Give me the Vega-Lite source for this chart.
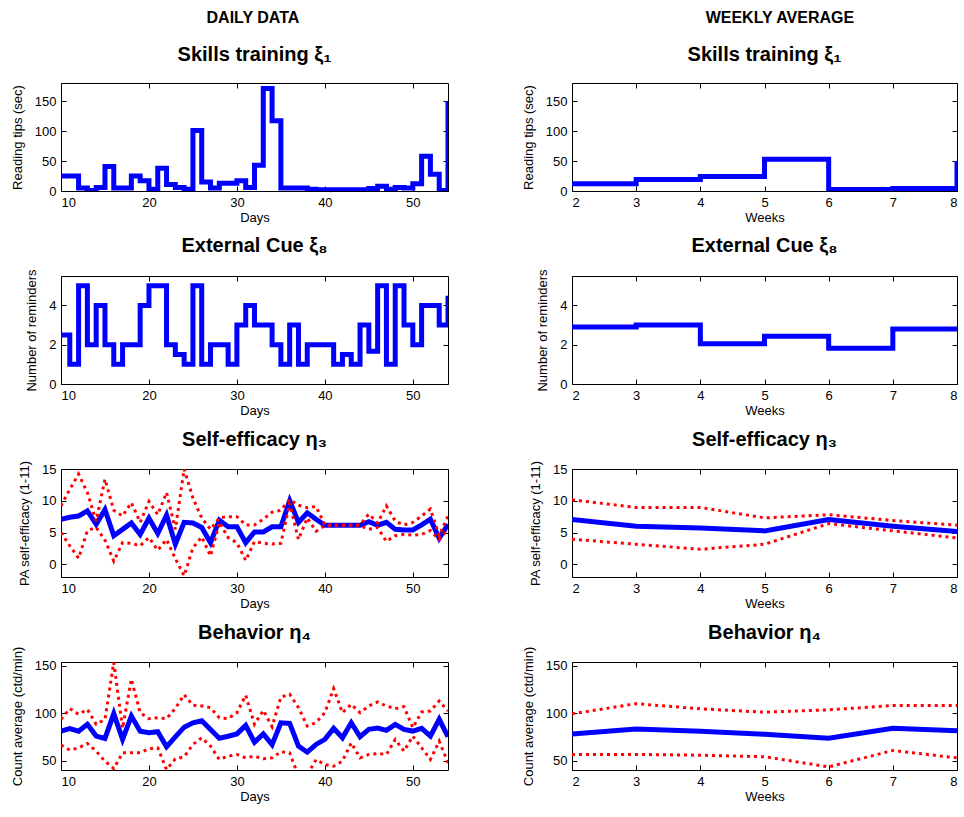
{
  "$schema": "https://vega.github.io/schema/vega-lite/v6.json",
  "background": "white",
  "padding": {"left": 10, "top": 10, "right": 6, "bottom": 6},
  "config": {
    "view": {"stroke": "#000000", "strokeWidth": 1},
    "axis": {"domain": false, "grid": false, "ticks": true, "tickSize": -5, "tickColor": "#000000", "tickWidth": 1,
      "labelFont": "Liberation Sans", "labelFontSize": 13, "labelColor": "#000000", "labelPadding": 10,
      "titleFont": "Liberation Sans", "titleFontSize": 13, "titleFontWeight": "normal", "titleColor": "#000000"},
    "axisX": {"titlePadding": 2},
    "axisY": {"titlePadding": 10},
    "title": {"font": "Liberation Sans", "fontSize": 20, "fontWeight": "bold", "color": "#000000", "offset": 18, "anchor": "middle"}
  },
  "datasets": {
    "skillsDaily": [
      {"day":10,"value":25},{"day":11,"value":25},{"day":12,"value":5},{"day":13,"value":1},{"day":14,"value":6},
      {"day":15,"value":41},{"day":16,"value":5},{"day":17,"value":5},{"day":18,"value":25},{"day":19,"value":17},
      {"day":20,"value":3},{"day":21,"value":38},{"day":22,"value":11},{"day":23,"value":6},{"day":24,"value":3},
      {"day":25,"value":101},{"day":26,"value":15},{"day":27,"value":5},{"day":28,"value":13},{"day":29,"value":13},
      {"day":30,"value":17},{"day":31,"value":6},{"day":32,"value":43},{"day":33,"value":171},{"day":34,"value":117},
      {"day":35,"value":5},{"day":36,"value":5},{"day":37,"value":5},{"day":38,"value":3},{"day":39,"value":2},
      {"day":40,"value":2},{"day":41,"value":2},{"day":42,"value":2},{"day":43,"value":2},{"day":44,"value":2},
      {"day":45,"value":4},{"day":46,"value":8},{"day":47,"value":3},{"day":48,"value":6},{"day":49,"value":5},
      {"day":50,"value":12},{"day":51,"value":58},{"day":52,"value":28},{"day":53,"value":1},{"day":54,"value":150}
    ],
    "extDaily": [
      {"day":10,"value":2.5},{"day":11,"value":1},{"day":12,"value":5},{"day":13,"value":2},{"day":14,"value":4},
      {"day":15,"value":2},{"day":16,"value":1},{"day":17,"value":2},{"day":18,"value":2},{"day":19,"value":4},
      {"day":20,"value":5},{"day":21,"value":5},{"day":22,"value":2},{"day":23,"value":1.5},{"day":24,"value":1},
      {"day":25,"value":5},{"day":26,"value":1},{"day":27,"value":2},{"day":28,"value":2},{"day":29,"value":1},
      {"day":30,"value":3},{"day":31,"value":4},{"day":32,"value":3},{"day":33,"value":3},{"day":34,"value":2},
      {"day":35,"value":1},{"day":36,"value":3},{"day":37,"value":1},{"day":38,"value":2},{"day":39,"value":2},
      {"day":40,"value":2},{"day":41,"value":1},{"day":42,"value":1.5},{"day":43,"value":1},{"day":44,"value":3},
      {"day":45,"value":1.67},{"day":46,"value":5},{"day":47,"value":1},{"day":48,"value":5},{"day":49,"value":3},
      {"day":50,"value":2},{"day":51,"value":4},{"day":52,"value":4},{"day":53,"value":3},{"day":54,"value":4.5}
    ],
    "selfDaily": [
      {"day":10,"mean":7.1,"upper":9.2,"lower":5.0},{"day":11,"mean":7.4,"upper":11.8,"lower":2.9},
      {"day":12,"mean":7.6,"upper":14.2,"lower":0.95},{"day":13,"mean":8.4,"upper":11.3,"lower":5.3},
      {"day":14,"mean":6.3,"upper":6.8,"lower":5.8},{"day":15,"mean":8.6,"upper":13.4,"lower":3.8},
      {"day":16,"mean":4.5,"upper":8.5,"lower":0.5},{"day":17,"mean":5.5,"upper":7.6,"lower":3.4},
      {"day":18,"mean":6.5,"upper":9.7,"lower":3.3},{"day":19,"mean":4.7,"upper":6.6,"lower":2.9},
      {"day":20,"mean":7.25,"upper":9.9,"lower":4.2},{"day":21,"mean":4.85,"upper":7.8,"lower":2.2},
      {"day":22,"mean":7.75,"upper":11.3,"lower":3.9},{"day":23,"mean":3.15,"upper":5.5,"lower":0.9},
      {"day":24,"mean":6.6,"upper":15,"lower":-1.8},{"day":25,"mean":6.5,"upper":10.4,"lower":2.6},
      {"day":26,"mean":5.8,"upper":7.3,"lower":4.3},{"day":27,"mean":3.4,"upper":5.5,"lower":1.3},
      {"day":28,"mean":6.95,"upper":7.3,"lower":6.6},{"day":29,"mean":5.9,"upper":7.5,"lower":4.2},
      {"day":30,"mean":5.9,"upper":7.5,"lower":3.4},{"day":31,"mean":3.4,"upper":6.2,"lower":0.6},
      {"day":32,"mean":5.1,"upper":6.2,"lower":3.6},{"day":33,"mean":5.1,"upper":7.1,"lower":3.3},
      {"day":34,"mean":5.9,"upper":8.2,"lower":3.2},{"day":35,"mean":5.9,"upper":8.5,"lower":3.3},
      {"day":36,"mean":10,"upper":10.2,"lower":9.6},{"day":37,"mean":6.6,"upper":9.3,"lower":3.9},
      {"day":38,"mean":8.1,"upper":8.9,"lower":7.3},{"day":39,"mean":7.1,"upper":9.1,"lower":5.2},
      {"day":40,"mean":6.15,"upper":6.2,"lower":6.1},{"day":41,"mean":6.15,"upper":6.2,"lower":6.1},
      {"day":42,"mean":6.15,"upper":6.2,"lower":6.1},{"day":43,"mean":6.15,"upper":6.2,"lower":6.1},
      {"day":44,"mean":6.15,"upper":6.2,"lower":6.1},{"day":45,"mean":6.7,"upper":7.9,"lower":5.5},
      {"day":46,"mean":6.15,"upper":6.5,"lower":5.8},{"day":47,"mean":6.6,"upper":9.2,"lower":3.6},
      {"day":48,"mean":5.5,"upper":6.8,"lower":4.5},{"day":49,"mean":5.4,"upper":6.2,"lower":4.7},
      {"day":50,"mean":5.4,"upper":6.6,"lower":4.6},{"day":51,"mean":6.2,"upper":7.6,"lower":4.7},
      {"day":52,"mean":7.1,"upper":8.7,"lower":5.3},{"day":53,"mean":4.1,"upper":4.5,"lower":3.9},
      {"day":54,"mean":6.3,"upper":7.6,"lower":5.5}
    ],
    "behDaily": [
      {"day":10,"mean":81.1,"upper":93.5,"lower":66.3},{"day":11,"mean":83.6,"upper":104.8,"lower":61},
      {"day":12,"mean":81,"upper":98.8,"lower":63.4},{"day":13,"mean":88.2,"upper":104,"lower":68},
      {"day":14,"mean":75.8,"upper":88.2,"lower":59.9},{"day":15,"mean":73.3,"upper":93.5,"lower":49.3},
      {"day":16,"mean":99.5,"upper":153.5,"lower":41.5},{"day":17,"mean":72.3,"upper":84,"lower":58.1},
      {"day":18,"mean":97,"upper":136,"lower":58.1},{"day":19,"mean":81,"upper":100.5,"lower":58.1},
      {"day":20,"mean":79.3,"upper":94.2,"lower":62.4},{"day":21,"mean":80.4,"upper":95.2,"lower":63.4},
      {"day":22,"mean":64.5,"upper":94.2,"lower":40.5},{"day":23,"mean":75,"upper":105,"lower":51.8},
      {"day":24,"mean":85.2,"upper":119.5,"lower":53.9},{"day":25,"mean":89.8,"upper":108.3,"lower":67},
      {"day":26,"mean":91.9,"upper":107.6,"lower":74},{"day":27,"mean":82.7,"upper":105.8,"lower":65.2},
      {"day":28,"mean":73.5,"upper":95.2,"lower":51.1},{"day":29,"mean":75.6,"upper":94.2,"lower":54.6},
      {"day":30,"mean":78.1,"upper":100.5,"lower":56.4},{"day":31,"mean":87,"upper":118.9,"lower":52.8},
      {"day":32,"mean":69.3,"upper":88.2,"lower":54.6},{"day":33,"mean":78.1,"upper":103,"lower":51.8},
      {"day":34,"mean":66.8,"upper":85.7,"lower":52.8},{"day":35,"mean":89.8,"upper":117,"lower":59.2},
      {"day":36,"mean":89.2,"upper":120,"lower":58.1},{"day":37,"mean":65.2,"upper":105.8,"lower":33.4},
      {"day":38,"mean":58.8,"upper":86.4,"lower":35},{"day":39,"mean":67,"upper":90,"lower":51},
      {"day":40,"mean":72.3,"upper":100.5,"lower":45.8},{"day":41,"mean":83.9,"upper":126,"lower":44},
      {"day":42,"mean":74,"upper":100.5,"lower":49.3},{"day":43,"mean":89.9,"upper":109.4,"lower":68.7},
      {"day":44,"mean":75.1,"upper":100.5,"lower":52.8},{"day":45,"mean":82.9,"upper":107.6,"lower":56.4},
      {"day":46,"mean":84.3,"upper":111.8,"lower":57.4},{"day":47,"mean":81.8,"upper":107.6,"lower":56.4},
      {"day":48,"mean":88.2,"upper":104.8,"lower":72.3},{"day":49,"mean":82.9,"upper":106.9,"lower":59.9},
      {"day":50,"mean":81.1,"upper":84.6,"lower":75.8},{"day":51,"mean":83.9,"upper":101.2,"lower":63.4},
      {"day":52,"mean":75.8,"upper":102.3,"lower":51.1},{"day":53,"mean":93.5,"upper":112.9,"lower":70.5},
      {"day":54,"mean":75.1,"upper":102.3,"lower":47.5}
    ],
    "skillsWeekly": [
      {"week":2,"value":12},{"week":3,"value":19},{"week":4,"value":24},{"week":5,"value":53},
      {"week":6,"value":2.5},{"week":7,"value":4},{"week":8,"value":50}
    ],
    "extWeekly": [
      {"week":2,"value":2.9},{"week":3,"value":3.0},{"week":4,"value":2.05},{"week":5,"value":2.43},
      {"week":6,"value":1.82},{"week":7,"value":2.8},{"week":8,"value":2.8}
    ],
    "selfWeekly": [
      {"week":2,"mean":7.05,"upper":10.15,"lower":3.95},{"week":3,"mean":6.0,"upper":8.95,"lower":3.15},
      {"week":4,"mean":5.7,"upper":8.95,"lower":2.37},{"week":5,"mean":5.26,"upper":7.3,"lower":3.15},
      {"week":6,"mean":7.05,"upper":7.8,"lower":6.4},{"week":7,"mean":6.0,"upper":6.9,"lower":5.26},
      {"week":8,"mean":5.15,"upper":6.15,"lower":4.15}
    ],
    "behWeekly": [
      {"week":2,"mean":78,"upper":99.3,"lower":56.4},{"week":3,"mean":83.4,"upper":110,"lower":56.4},
      {"week":4,"mean":81,"upper":104.6,"lower":55.6},{"week":5,"mean":77.7,"upper":101,"lower":54},
      {"week":6,"mean":73.5,"upper":103.5,"lower":43.3},{"week":7,"mean":84,"upper":108,"lower":60.6},
      {"week":8,"mean":81.3,"upper":108,"lower":52.8}
    ]
  },
  "spacing": 72,
  "hconcat": [
    {
      "title": {"text": "DAILY DATA", "fontSize": 16, "offset": 18, "frame": "bounds", "dx": 23},
      "bounds": "flush",
      "spacing": 85,
      "vconcat": [
        {
          "title": {"text": "Skills training ξ₁", "offset": 18},
          "width": 387, "height": 108,
          "data": {"name": "skillsDaily"},
          "resolve": {"axis": {"x": "independent", "y": "independent"}},
          "layer": [
            {"mark": {"type": "line", "interpolate": "step-after", "color": "#0000ff", "strokeWidth": 5, "clip": true},
             "encoding": {
               "x": {"field": "day", "type": "quantitative", "scale": {"domain": [10, 54], "nice": false, "zero": false}, "axis": {"title": "Days", "values": [10, 20, 30, 40, 50]}},
               "y": {"field": "value", "type": "quantitative", "scale": {"domain": [0, 180], "nice": false}, "axis": {"title": "Reading tips (sec)", "values": [0, 50, 100, 150]}}}},
            {"mark": {"type": "line", "strokeOpacity": 0},
             "encoding": {
               "x": {"field": "day", "type": "quantitative", "axis": {"orient": "top", "labels": false, "title": null, "values": [10, 20, 30, 40, 50]}},
               "y": {"field": "value", "type": "quantitative", "axis": {"orient": "right", "labels": false, "title": null, "values": [0, 50, 100, 150]}}}}
          ]
        },
        {
          "title": {"text": "External Cue ξ₈", "offset": 13},
          "width": 387, "height": 108,
          "data": {"name": "extDaily"},
          "resolve": {"axis": {"x": "independent", "y": "independent"}},
          "layer": [
            {"mark": {"type": "line", "interpolate": "step-after", "color": "#0000ff", "strokeWidth": 5, "clip": true},
             "encoding": {
               "x": {"field": "day", "type": "quantitative", "scale": {"domain": [10, 54], "nice": false, "zero": false}, "axis": {"title": "Days", "values": [10, 20, 30, 40, 50]}},
               "y": {"field": "value", "type": "quantitative", "scale": {"domain": [0, 5.5], "nice": false}, "axis": {"title": "Number of reminders", "values": [0, 2, 4]}}}},
            {"mark": {"type": "line", "strokeOpacity": 0},
             "encoding": {
               "x": {"field": "day", "type": "quantitative", "axis": {"orient": "top", "labels": false, "title": null, "values": [10, 20, 30, 40, 50]}},
               "y": {"field": "value", "type": "quantitative", "axis": {"orient": "right", "labels": false, "title": null, "values": [0, 2, 4]}}}}
          ]
        },
        {
          "title": {"text": "Self-efficacy η₃", "offset": 10},
          "width": 387, "height": 108,
          "data": {"name": "selfDaily"},
          "resolve": {"axis": {"x": "independent", "y": "independent"}},
          "layer": [
            {"mark": {"type": "line", "color": "#0000ff", "strokeWidth": 5, "clip": true},
             "encoding": {
               "x": {"field": "day", "type": "quantitative", "scale": {"domain": [10, 54], "nice": false, "zero": false}, "axis": {"title": "Days", "values": [10, 20, 30, 40, 50]}},
               "y": {"field": "mean", "type": "quantitative", "scale": {"domain": [-2, 15], "nice": false, "zero": false}, "axis": {"title": "PA self-efficacy (1-11)", "values": [0, 5, 10, 15]}}}},
            {"mark": {"type": "line", "color": "#ff0000", "strokeWidth": 3, "strokeDash": [3, 4], "clip": true},
             "encoding": {"x": {"field": "day", "type": "quantitative", "axis": null}, "y": {"field": "upper", "type": "quantitative", "axis": null}}},
            {"mark": {"type": "line", "color": "#ff0000", "strokeWidth": 3, "strokeDash": [3, 4], "clip": true},
             "encoding": {"x": {"field": "day", "type": "quantitative", "axis": null}, "y": {"field": "lower", "type": "quantitative", "axis": null}}},
            {"mark": {"type": "line", "strokeOpacity": 0},
             "encoding": {
               "x": {"field": "day", "type": "quantitative", "axis": {"orient": "top", "labels": false, "title": null, "values": [10, 20, 30, 40, 50]}},
               "y": {"field": "mean", "type": "quantitative", "axis": {"orient": "right", "labels": false, "title": null, "values": [0, 5, 10, 15]}}}}
          ]
        },
        {
          "title": {"text": "Behavior η₄", "offset": 3},
          "width": 387, "height": 108,
          "data": {"name": "behDaily"},
          "resolve": {"axis": {"x": "independent", "y": "independent"}},
          "layer": [
            {"mark": {"type": "line", "color": "#0000ff", "strokeWidth": 5, "clip": true},
             "encoding": {
               "x": {"field": "day", "type": "quantitative", "scale": {"domain": [10, 54], "nice": false, "zero": false}, "axis": {"title": "Days", "values": [10, 20, 30, 40, 50]}},
               "y": {"field": "mean", "type": "quantitative", "scale": {"domain": [40, 154], "nice": false, "zero": false}, "axis": {"title": "Count average (ctd/min)", "values": [50, 100, 150]}}}},
            {"mark": {"type": "line", "color": "#ff0000", "strokeWidth": 3, "strokeDash": [3, 4], "clip": true},
             "encoding": {"x": {"field": "day", "type": "quantitative", "axis": null}, "y": {"field": "upper", "type": "quantitative", "axis": null}}},
            {"mark": {"type": "line", "color": "#ff0000", "strokeWidth": 3, "strokeDash": [3, 4], "clip": true},
             "encoding": {"x": {"field": "day", "type": "quantitative", "axis": null}, "y": {"field": "lower", "type": "quantitative", "axis": null}}},
            {"mark": {"type": "line", "strokeOpacity": 0},
             "encoding": {
               "x": {"field": "day", "type": "quantitative", "axis": {"orient": "top", "labels": false, "title": null, "values": [10, 20, 30, 40, 50]}},
               "y": {"field": "mean", "type": "quantitative", "axis": {"orient": "right", "labels": false, "title": null, "values": [50, 100, 150]}}}}
          ]
        }
      ]
    },
    {
      "title": {"text": "WEEKLY AVERAGE", "fontSize": 16, "offset": 18, "frame": "bounds", "dx": 40},
      "bounds": "flush",
      "spacing": 85,
      "vconcat": [
        {
          "title": {"text": "Skills training ξ₁", "offset": 18},
          "width": 385, "height": 108,
          "data": {"name": "skillsWeekly"},
          "resolve": {"axis": {"x": "independent", "y": "independent"}},
          "layer": [
            {"mark": {"type": "line", "interpolate": "step-after", "color": "#0000ff", "strokeWidth": 5, "clip": true},
             "encoding": {
               "x": {"field": "week", "type": "quantitative", "scale": {"domain": [2, 8], "nice": false, "zero": false}, "axis": {"title": "Weeks", "values": [2, 3, 4, 5, 6, 7, 8]}},
               "y": {"field": "value", "type": "quantitative", "scale": {"domain": [0, 180], "nice": false}, "axis": {"title": "Reading tips (sec)", "values": [0, 50, 100, 150]}}}},
            {"mark": {"type": "line", "strokeOpacity": 0},
             "encoding": {
               "x": {"field": "week", "type": "quantitative", "axis": {"orient": "top", "labels": false, "title": null, "values": [2, 3, 4, 5, 6, 7, 8]}},
               "y": {"field": "value", "type": "quantitative", "axis": {"orient": "right", "labels": false, "title": null, "values": [0, 50, 100, 150]}}}}
          ]
        },
        {
          "title": {"text": "External Cue ξ₈", "offset": 13},
          "width": 385, "height": 108,
          "data": {"name": "extWeekly"},
          "resolve": {"axis": {"x": "independent", "y": "independent"}},
          "layer": [
            {"mark": {"type": "line", "interpolate": "step-after", "color": "#0000ff", "strokeWidth": 5, "clip": true},
             "encoding": {
               "x": {"field": "week", "type": "quantitative", "scale": {"domain": [2, 8], "nice": false, "zero": false}, "axis": {"title": "Weeks", "values": [2, 3, 4, 5, 6, 7, 8]}},
               "y": {"field": "value", "type": "quantitative", "scale": {"domain": [0, 5.5], "nice": false}, "axis": {"title": "Number of reminders", "values": [0, 2, 4]}}}},
            {"mark": {"type": "line", "strokeOpacity": 0},
             "encoding": {
               "x": {"field": "week", "type": "quantitative", "axis": {"orient": "top", "labels": false, "title": null, "values": [2, 3, 4, 5, 6, 7, 8]}},
               "y": {"field": "value", "type": "quantitative", "axis": {"orient": "right", "labels": false, "title": null, "values": [0, 2, 4]}}}}
          ]
        },
        {
          "title": {"text": "Self-efficacy η₃", "offset": 10},
          "width": 385, "height": 108,
          "data": {"name": "selfWeekly"},
          "resolve": {"axis": {"x": "independent", "y": "independent"}},
          "layer": [
            {"mark": {"type": "line", "color": "#0000ff", "strokeWidth": 5, "clip": true},
             "encoding": {
               "x": {"field": "week", "type": "quantitative", "scale": {"domain": [2, 8], "nice": false, "zero": false}, "axis": {"title": "Weeks", "values": [2, 3, 4, 5, 6, 7, 8]}},
               "y": {"field": "mean", "type": "quantitative", "scale": {"domain": [-2, 15], "nice": false, "zero": false}, "axis": {"title": "PA self-efficacy (1-11)", "values": [0, 5, 10, 15]}}}},
            {"mark": {"type": "line", "color": "#ff0000", "strokeWidth": 3, "strokeDash": [3, 4], "clip": true},
             "encoding": {"x": {"field": "week", "type": "quantitative", "axis": null}, "y": {"field": "upper", "type": "quantitative", "axis": null}}},
            {"mark": {"type": "line", "color": "#ff0000", "strokeWidth": 3, "strokeDash": [3, 4], "clip": true},
             "encoding": {"x": {"field": "week", "type": "quantitative", "axis": null}, "y": {"field": "lower", "type": "quantitative", "axis": null}}},
            {"mark": {"type": "line", "strokeOpacity": 0},
             "encoding": {
               "x": {"field": "week", "type": "quantitative", "axis": {"orient": "top", "labels": false, "title": null, "values": [2, 3, 4, 5, 6, 7, 8]}},
               "y": {"field": "mean", "type": "quantitative", "axis": {"orient": "right", "labels": false, "title": null, "values": [0, 5, 10, 15]}}}}
          ]
        },
        {
          "title": {"text": "Behavior η₄", "offset": 3},
          "width": 385, "height": 108,
          "data": {"name": "behWeekly"},
          "resolve": {"axis": {"x": "independent", "y": "independent"}},
          "layer": [
            {"mark": {"type": "line", "color": "#0000ff", "strokeWidth": 5, "clip": true},
             "encoding": {
               "x": {"field": "week", "type": "quantitative", "scale": {"domain": [2, 8], "nice": false, "zero": false}, "axis": {"title": "Weeks", "values": [2, 3, 4, 5, 6, 7, 8]}},
               "y": {"field": "mean", "type": "quantitative", "scale": {"domain": [40, 154], "nice": false, "zero": false}, "axis": {"title": "Count average (ctd/min)", "values": [50, 100, 150]}}}},
            {"mark": {"type": "line", "color": "#ff0000", "strokeWidth": 3, "strokeDash": [3, 4], "clip": true},
             "encoding": {"x": {"field": "week", "type": "quantitative", "axis": null}, "y": {"field": "upper", "type": "quantitative", "axis": null}}},
            {"mark": {"type": "line", "color": "#ff0000", "strokeWidth": 3, "strokeDash": [3, 4], "clip": true},
             "encoding": {"x": {"field": "week", "type": "quantitative", "axis": null}, "y": {"field": "lower", "type": "quantitative", "axis": null}}},
            {"mark": {"type": "line", "strokeOpacity": 0},
             "encoding": {
               "x": {"field": "week", "type": "quantitative", "axis": {"orient": "top", "labels": false, "title": null, "values": [2, 3, 4, 5, 6, 7, 8]}},
               "y": {"field": "mean", "type": "quantitative", "axis": {"orient": "right", "labels": false, "title": null, "values": [50, 100, 150]}}}}
          ]
        }
      ]
    }
  ]
}
